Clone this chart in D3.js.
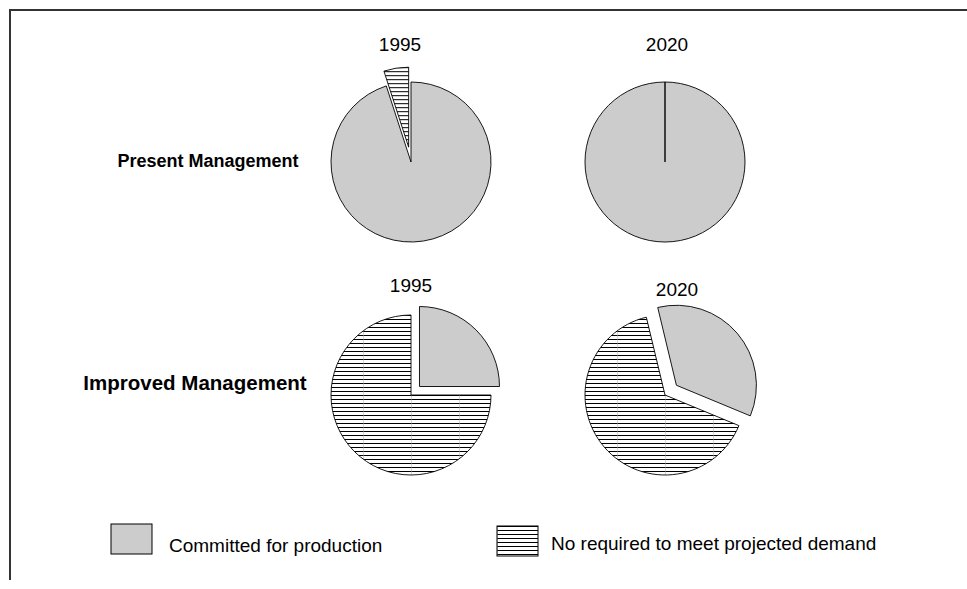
<!DOCTYPE html>
<html>
<head>
<meta charset="utf-8">
<script src="https://cdn.jsdelivr.net/npm/d3@7"></script>
<style>
body { margin: 0; background: #fff; }
text { font-family: "Liberation Sans", Arial, sans-serif; fill: #000; }
</style>
</head>
<body>
<div id="chart"></div>
<script>
//// data - percent of capacity, [committed, not required]

const categories = ['Committed for production', 'No required to meet projected demand'];
const scenarios = ['Present Management', 'Improved Management'];
const years = ['1995', '2020'];
const presentValues = [[95, 5], [100, 0]];
const improvedValues = [[25, 75], [35, 65]];

//// layout

const W = 967, H = 589, R = 80;
const fills = ['#cccccc', 'url(#hatch)'];
// start angle (deg) of each pie and how far each slice is pulled out
const startDeg = [[0, 0], [0, -13.5]];
const explode = [[[0, 15], [0, 0]], [[12, 0], [15, 0]]];
// year label shift from pie centre [dx, baseline dy]
const yearShift = [[[-11, -111], [2, -111]], [[0, -103], [12, -99]]];
const rowLabel = [{x: 208, dy: 5, size: 18}, {x: 195, dy: -5, size: 20.5}];

const svg = d3.select('#chart')
    .append('svg')
    .attr('width', W)
    .attr('height', H);

const defs = svg.append('defs');
const pat = defs.append('pattern')
    .attr('id', 'hatch')
    .attr('patternUnits', 'userSpaceOnUse')
    .attr('width', 48)
    .attr('height', 4);
pat.append('rect').attr('width', 48).attr('height', 4).attr('fill', '#fff');
pat.append('line')
    .attr('x1', 0).attr('x2', 48).attr('y1', 0.5).attr('y2', 0.5)
    .attr('stroke', '#000').attr('stroke-width', 1);
pat.append('line')
    .attr('x1', 0.5).attr('x2', 0.5).attr('y1', 0).attr('y2', 4)
    .attr('stroke', '#aaa').attr('stroke-width', 0.5);

// frame (top and left only)
svg.append('path')
    .attr('d', `M10,580 L10,10 L${W},10`)
    .attr('fill', 'none')
    .attr('stroke', '#333')
    .attr('stroke-width', 2);

const x = d3.scalePoint().domain(years).range([411, 665]);
const y = d3.scalePoint().domain(scenarios).range([162, 395]);

const arc = d3.arc().innerRadius(0).outerRadius(R);

const allValues = [presentValues, improvedValues];

scenarios.forEach((sc, si) => {
    svg.append('text')
        .attr('x', rowLabel[si].x)
        .attr('y', y(sc) + rowLabel[si].dy)
        .attr('text-anchor', 'middle')
        .style('font-size', rowLabel[si].size + 'px')
        .style('font-weight', 'bold')
        .text(sc);

    years.forEach((yr, yi) => {
        const cx = x(yr), cy = y(sc);
        const a0 = startDeg[si][yi] * Math.PI / 180;
        const pie = d3.pie().sort(null)
            .startAngle(a0)
            .endAngle(a0 + 2 * Math.PI);
        const arcs = pie(allValues[si][yi]);

        const g = svg.append('g').attr('transform', `translate(${cx},${cy})`);
        g.selectAll('path')
            .data(arcs)
            .enter().append('path')
            .attr('d', arc)
            .attr('transform', (d, i) => {
                const off = explode[si][yi][i];
                const mid = (d.startAngle + d.endAngle) / 2;
                return `translate(${off * Math.sin(mid)},${-off * Math.cos(mid)})`;
            })
            .attr('fill', (d, i) => fills[i])
            .attr('stroke', '#000')
            .attr('stroke-width', 0.9);

        svg.append('text')
            .attr('x', cx + yearShift[si][yi][0])
            .attr('y', cy + yearShift[si][yi][1])
            .attr('text-anchor', 'middle')
            .style('font-size', '19px')
            .text(yr);
    });
});

//// legend

const legendX = [111, 497];
const legend = svg.selectAll('.legend')
    .data(categories)
    .enter().append('g')
    .attr('class', 'legend')
    .attr('transform', (d, i) => `translate(${legendX[i]},${524 + i * 2})`);
legend.append('rect')
    .attr('width', 41)
    .attr('height', 30)
    .attr('fill', (d, i) => fills[i])
    .attr('stroke', '#000')
    .attr('stroke-width', 1);
legend.append('text')
    .attr('x', (d, i) => i === 0 ? 58 : 54)
    .attr('y', (d, i) => i === 0 ? 28 : 24)
    .style('font-size', '19px')
    .text(d => d);
</script>
</body>
</html>
